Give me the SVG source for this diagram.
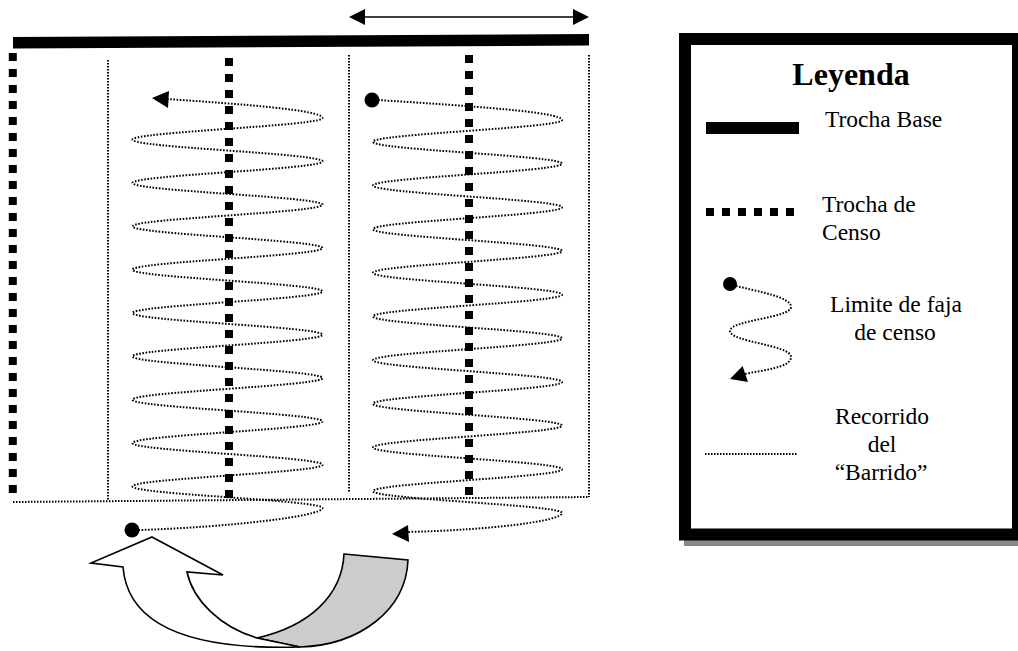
<svg xmlns="http://www.w3.org/2000/svg" width="1018" height="651" viewBox="0 0 1018 651">
  <style>
    .dot { fill: none; stroke: #000; stroke-width: 2; stroke-dasharray: 1.6 1.6; }
    .thin { fill: none; stroke: #000; stroke-width: 2; stroke-dasharray: 1.5 1.5; }
    .census { stroke: #000; stroke-width: 8; stroke-dasharray: 8 8; fill: none; }
    .head { fill: #000; stroke: none; }
    .lbl { font-family: "Liberation Serif", "Times New Roman", serif; font-size: 23.5px; fill: #000; }
    .ttl { font-family: "Liberation Serif", "Times New Roman", serif; font-size: 32px; font-weight: bold; fill: #000; }
    .band { stroke: #000; stroke-width: 1.6; stroke-linejoin: miter; }
  </style>
  <rect width="1018" height="651" fill="#fff"/>

  <g id="width-arrow">
    <line x1="364" y1="17" x2="574" y2="17" stroke="#000" stroke-width="1.6"/>
    <polygon class="head" points="349,17 365,9 365,25"/>
    <polygon class="head" points="589,17 573,9 573,25"/>
  </g>

  <g id="base-trail">
    <polygon points="13,37 589,34 589,45.5 13,48.5" fill="#000"/>
  </g>

  <g id="strip-boundaries">
    <line class="thin" x1="108" y1="60" x2="108" y2="501"/>
    <line class="thin" x1="349" y1="55" x2="349" y2="493"/>
    <line class="thin" x1="589" y1="55" x2="589" y2="497"/>
    <line class="thin" x1="13" y1="502" x2="589" y2="497"/>
  </g>

  <g id="census-trails">
    <line class="census" x1="12.8" y1="53" x2="12.8" y2="493"/>
    <line class="census" x1="229" y1="58" x2="229" y2="498"/>
    <line class="census" x1="469" y1="55" x2="469" y2="495"/>
  </g>

  <g id="connectors">
    <path id="sweep-left" class="dot" d="M167,99 C240,104 322.5,110 322.5,118
      c0,7.87 -190,13.8 -190,21.67 c0,7.87 190,13.8 190,21.67
      c0,7.87 -190,13.8 -190,21.67 c0,7.87 190,13.8 190,21.67
      c0,7.87 -190,13.8 -190,21.67 c0,7.87 190,13.8 190,21.67
      c0,7.87 -190,13.8 -190,21.67 c0,7.87 190,13.8 190,21.67
      c0,7.87 -190,13.8 -190,21.67 c0,7.87 190,13.8 190,21.67
      c0,7.87 -190,13.8 -190,21.67 c0,7.87 190,13.8 190,21.67
      c0,7.87 -190,13.8 -190,21.67 c0,7.87 190,13.8 190,21.67
      c0,7.87 -190,13.8 -190,21.67 c0,7.87 190,13.8 190,21.67
      c0,7.87 -190,13.8 -190,21.67 c0,7.87 190,13.8 190,21.67
      c0,8 -92,19 -184,22"/>
    <polygon class="head" points="152,98 169,91 168,108"/>
    <circle cx="132" cy="530" r="7.5" fill="#000"/>

    <path id="sweep-right" class="dot" d="M378,100 C470,106 562,112 562,120
      c0,7.93 -189,13.9 -189,21.83 c0,7.93 189,13.9 189,21.83
      c0,7.93 -189,13.9 -189,21.83 c0,7.93 189,13.9 189,21.83
      c0,7.93 -189,13.9 -189,21.83 c0,7.93 189,13.9 189,21.83
      c0,7.93 -189,13.9 -189,21.83 c0,7.93 189,13.9 189,21.83
      c0,7.93 -189,13.9 -189,21.83 c0,7.93 189,13.9 189,21.83
      c0,7.93 -189,13.9 -189,21.83 c0,7.93 189,13.9 189,21.83
      c0,7.93 -189,13.9 -189,21.83 c0,7.93 189,13.9 189,21.83
      c0,7.93 -189,13.9 -189,21.83 c0,7.93 189,13.9 189,21.83
      c0,7.93 -189,13.9 -189,21.83 c0,7.93 189,13.9 189,21.83
      c0,8 -70,17 -154,19"/>
    <circle cx="372" cy="100" r="7.5" fill="#000"/>
    <polygon class="head" points="392,534 408,525 409,542"/>
  </g>

  <g id="return-arrow">
    <path class="band" fill="#cccccc" d="M344,554 L408,560 C406,610 360,645 300,647 L257,638 C310,626 342,595 344,554 Z"/>
    <path class="band" fill="#ffffff" d="M152,537 L223,575 L187,572 C193,600 220,627 257,638 L300,647 C200,650 128,630 123,567 L91,563 Z"/>
  </g>

  <g id="legend">
    <rect x="684" y="39" width="340" height="507" fill="#898989"/>
    <rect x="685" y="39" width="333" height="495.5" fill="#fff" stroke="#000" stroke-width="12"/>
    <text class="ttl" x="851" y="85" text-anchor="middle">Leyenda</text>

    <g id="legend-base">
      <rect x="706" y="122" width="93" height="12" fill="#000"/>
      <text class="lbl" x="825" y="127">Trocha Base</text>
    </g>
    <g id="legend-census">
      <line class="census" x1="706" y1="212" x2="799" y2="212"/>
      <text class="lbl" x="822" y="212">Trocha de</text>
      <text class="lbl" x="822" y="240">Censo</text>
    </g>
    <g id="legend-strip">
      <circle cx="730" cy="284" r="7" fill="#000"/>
      <path class="dot" d="M736,286 C760,292 791,297 791,307 C791,318 730,320 730,331 C730,342 791,345 791,357 C791,368 762,370 745,374"/>
      <polygon class="head" points="730,379 742.6,366 748,382"/>
      <text class="lbl" x="896" y="312" text-anchor="middle">Limite de faja</text>
      <text class="lbl" x="895" y="340" text-anchor="middle">de censo</text>
    </g>
    <g id="legend-sweep">
      <line class="thin" x1="705" y1="454" x2="798" y2="454"/>
      <text class="lbl" x="882" y="424" text-anchor="middle">Recorrido</text>
      <text class="lbl" x="882" y="452" text-anchor="middle">del</text>
      <text class="lbl" x="881" y="480" text-anchor="middle">“Barrido”</text>
    </g>
  </g>
</svg>
